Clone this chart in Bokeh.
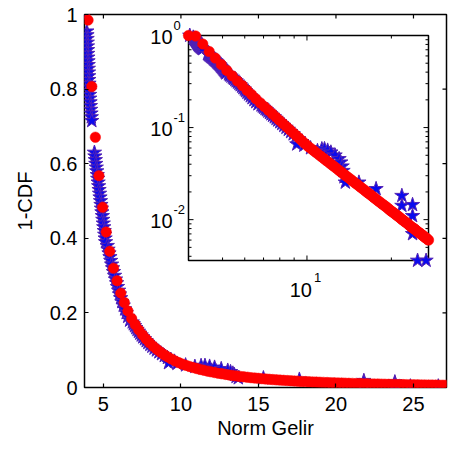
import math
from bokeh.plotting import figure
from bokeh.models import Range1d, LogScale, ColumnDataSource, FixedTicker
from bokeh.core.properties import value
from bokeh.embed import file_html
from bokeh.resources import INLINE

# ---------------- data ----------------
# fitted curve (red dots)
red_x = [3.78, 4.01, 4.25, 4.48, 4.71, 4.95, 5.18, 5.41, 5.65, 5.88,
         6.12, 6.35, 6.58, 6.82, 7.05, 7.28, 7.52, 7.75, 7.98, 8.22,
         8.45, 8.68, 8.92, 9.15, 9.38, 9.62, 9.85, 10.08, 10.32, 10.55,
         10.79, 11.02, 11.25, 11.49, 11.72, 11.95, 12.19, 12.42, 12.65, 12.89,
         13.12, 13.35, 13.59, 13.82, 14.05, 14.29, 14.52, 14.76, 14.99, 15.22,
         15.46, 15.69, 15.92, 16.16, 16.39, 16.62, 16.86, 17.09, 17.32, 17.56,
         17.79, 18.03, 18.26, 18.49, 18.73, 18.96, 19.19, 19.43, 19.66, 19.89,
         20.13, 20.36, 20.59, 20.83, 21.06, 21.30, 21.53, 21.76, 22.00, 22.23,
         22.46, 22.70, 22.93, 23.16, 23.40, 23.63, 23.86, 24.10, 24.33, 24.56,
         24.80, 25.03, 25.27, 25.50, 25.73, 25.97, 26.20, 26.43, 26.67, 26.90,
         27.13]
red_y = [1.000, 0.985, 0.807, 0.671, 0.568, 0.483, 0.417, 0.365, 0.320, 0.286,
         0.253, 0.228, 0.205, 0.185, 0.1688, 0.1544, 0.1411, 0.1298, 0.1197, 0.1103,
         0.1022, 0.0949, 0.0880, 0.0820, 0.0765, 0.0713, 0.0668, 0.0628, 0.0594, 0.0564,
         0.0534, 0.0508, 0.0484, 0.0461, 0.0439, 0.0420, 0.0400, 0.0383, 0.0367, 0.0351,
         0.0336, 0.0323, 0.0309, 0.0297, 0.0286, 0.0275, 0.0264, 0.0254, 0.0245, 0.0237,
         0.0228, 0.0220, 0.0213, 0.0205, 0.0198, 0.0192, 0.0186, 0.0180, 0.0174, 0.0169,
         0.0163, 0.0158, 0.0154, 0.0149, 0.0145, 0.0141, 0.0137, 0.0133, 0.0129, 0.0125,
         0.0122, 0.0119, 0.0116, 0.0112, 0.0110, 0.0107, 0.0104, 0.0101, 0.0099, 0.0096,
         0.0094, 0.0092, 0.0090, 0.0087, 0.0085, 0.0083, 0.0081, 0.0080, 0.0078, 0.0076,
         0.0074, 0.0073, 0.0071, 0.0070, 0.0068, 0.0067, 0.0065, 0.0064, 0.0063, 0.0061,
         0.0060]

# empirical points (blue stars)
blue_x = [3.82,
          3.93, 3.94, 3.95, 3.96, 3.97, 3.98, 3.99, 4.00, 4.01, 4.02,
          4.03, 4.04, 4.05, 4.06, 4.07, 4.08, 4.09, 4.11, 4.12, 4.14,
          4.16, 4.18, 4.20, 4.22, 4.25,
          4.42, 4.45, 4.48, 4.51, 4.54, 4.57, 4.60, 4.63, 4.66, 4.69,
          4.72, 4.75, 4.78, 4.81, 4.84, 4.87, 4.90, 4.93, 4.96, 4.99,
          5.02, 5.05, 5.08, 5.11, 5.14,
          5.25, 5.30, 5.36, 5.42, 5.47, 5.53, 5.59, 5.65, 5.72, 5.78,
          5.85, 5.91, 5.98, 6.04, 6.11, 6.19, 6.28, 6.37, 6.47, 6.57, 6.69,
          6.86, 6.93, 7.01, 7.09, 7.17, 7.26, 7.35, 7.44, 7.54, 7.65,
          7.76, 7.87, 8.00, 8.13, 8.27, 8.42, 8.58, 8.75, 8.93, 9.13,
          9.35, 9.59,
          9.20, 9.75, 10.30, 10.90, 11.30, 11.55, 11.85, 12.17, 12.60, 13.02,
          13.20, 13.35, 13.45, 13.56, 13.70, 15.32, 17.64, 21.80, 21.80, 23.80,
          23.80, 23.80, 24.80, 26.60]
blue_y = [1.000,
          0.955, 0.945, 0.935, 0.925, 0.915, 0.905, 0.895, 0.885, 0.875, 0.865,
          0.855, 0.845, 0.835, 0.825, 0.815, 0.805, 0.795, 0.785, 0.775, 0.765,
          0.755, 0.745, 0.735, 0.725, 0.715,
          0.630, 0.620, 0.610, 0.600, 0.590, 0.580, 0.570, 0.560, 0.550, 0.540,
          0.530, 0.520, 0.510, 0.500, 0.490, 0.480, 0.470, 0.460, 0.450, 0.440,
          0.430, 0.420, 0.410, 0.400, 0.390,
          0.380, 0.370, 0.360, 0.350, 0.340, 0.330, 0.320, 0.310, 0.300, 0.290,
          0.280, 0.270, 0.260, 0.250, 0.240, 0.230, 0.220, 0.210, 0.200, 0.190, 0.180,
          0.175, 0.170, 0.165, 0.160, 0.155, 0.150, 0.145, 0.140, 0.135, 0.130,
          0.125, 0.120, 0.115, 0.110, 0.105, 0.100, 0.095, 0.090, 0.085, 0.080,
          0.075, 0.070,
          0.0660, 0.0640, 0.0600, 0.0560, 0.0585, 0.0587, 0.0565, 0.0539, 0.0500, 0.0457,
          0.0420, 0.0380, 0.0340, 0.0290, 0.0254, 0.0254, 0.0216, 0.0182, 0.0142, 0.0145,
          0.0110, 0.0070, 0.0036, 0.0036]

main_xticks = [5, 10, 15, 20, 25]
main_yticks = [0, 0.2, 0.4, 0.6, 0.8, 1]
main_ylabels = ["0", "0.2", "0.4", "0.6", "0.8", "1"]
inset_ymajor = [1, 0.1, 0.01]
inset_ymajor_exp = ["0", "-1", "-2"]
inset_yminor = [0.004, 0.005, 0.006, 0.007, 0.008, 0.009,
                0.02, 0.03, 0.04, 0.05, 0.06, 0.07, 0.08, 0.09,
                0.2, 0.3, 0.4, 0.5, 0.6, 0.7, 0.8, 0.9]
inset_xmajor = [10]
inset_xmajor_exp = ["1"]
inset_xminor = [5, 6, 7, 8, 9, 20]

X_LIM = (3.78, 27.13)
Y_LIM = (0.0, 1.0)
IY_LIM = (0.0036, 1.0)

# ---------------- layout ----------------
W, H = 449, 450
BL, BR, BT, BB = 84, 3, 14, 63
FW, FH = W - BL - BR, H - BT - BB
IN_L, IN_R, IN_T, IN_B = 188, 428, 35, 260   # inset box in page pixels

def log_extent(lo, hi, a0, a1):
    l0, l1 = math.log10(lo), math.log10(hi)
    span = (l1 - l0) / (a1 - a0)
    start = l0 - a0 * span
    return 10 ** start, 10 ** (start + span)

ix0, ix1 = log_extent(X_LIM[0], X_LIM[1], (IN_L - BL) / FW, (IN_R - BL) / FW)
iy0, iy1 = log_extent(IY_LIM[0], IY_LIM[1], (BT + FH - IN_B) / FH, (BT + FH - IN_T) / FH)

FONT = value("Liberation Sans")

p = figure(width=W, height=H, x_range=Range1d(*X_LIM), y_range=Range1d(*Y_LIM),
           output_backend="svg", toolbar_location=None,
           min_border_left=BL, min_border_right=BR, min_border_top=BT, min_border_bottom=BB)
p.extra_x_ranges = {"ix": Range1d(ix0, ix1)}
p.extra_x_scales = {"ix": LogScale()}
p.extra_y_ranges = {"iy": Range1d(iy0, iy1)}
p.extra_y_scales = {"iy": LogScale()}

p.background_fill_color = "white"
p.border_fill_color = "white"
p.grid.visible = False
p.outline_line_color = "black"
p.outline_line_width = 1.5

for ax in (p.xaxis[0], p.yaxis[0]):
    ax.axis_line_color = None
    ax.major_tick_in = 4
    ax.major_tick_out = 0
    ax.major_tick_line_width = 1.2
    ax.minor_tick_line_color = None
    ax.major_label_text_font = "Liberation Sans"
    ax.major_label_text_font_size = "20px"
    ax.major_label_text_color = "black"
    ax.axis_label_text_font = "Liberation Sans"
    ax.axis_label_text_font_size = "20px"
    ax.axis_label_text_font_style = "normal"
    ax.axis_label_text_color = "black"

p.xaxis.ticker = FixedTicker(ticks=main_xticks)
p.yaxis.ticker = FixedTicker(ticks=main_yticks)
p.yaxis.major_label_overrides = {t: s for t, s in zip(main_yticks, main_ylabels)}
p.xaxis.axis_label = "Norm Gelir"
p.yaxis.axis_label = "1-CDF"
p.xaxis.major_label_standoff = 9
p.xaxis.axis_label_standoff = 3
p.yaxis.major_label_standoff = 7
p.yaxis.axis_label_standoff = 11

# ticks on top / right of the main box
p.ray(x=main_xticks, y=[Y_LIM[1]] * len(main_xticks), length=4, length_units="screen",
      angle=-math.pi / 2, line_color="black", line_width=1.2)
p.ray(x=[X_LIM[1]] * len(main_yticks), y=main_yticks, length=4, length_units="screen",
      angle=math.pi, line_color="black", line_width=1.2)

bsrc = ColumnDataSource(dict(x=blue_x, y=blue_y))
rsrc = ColumnDataSource(dict(x=red_x, y=red_y))

STAR = dict(marker="star", size=15, fill_color="#0a0aee", line_color="#5424b4", line_width=1)
DOT = dict(marker="circle", size=10.5, fill_color="#ff0000", line_color="#ff0000", line_width=0.5)

p.scatter("x", "y", source=bsrc, **STAR)
p.scatter("x", "y", source=rsrc, **DOT)

# ---------------- inset (log-log) ----------------
IN = dict(x_range_name="ix", y_range_name="iy")
p.quad(left=[X_LIM[0]], right=[X_LIM[1]], bottom=[IY_LIM[0]], top=[IY_LIM[1]],
       fill_color="white", line_color="black", line_width=1.5, **IN)

def rays(xs, ys, length, angle):
    p.ray(x=xs, y=ys, length=length, length_units="screen", angle=angle,
          line_color="black", line_width=1, **IN)

# x ticks bottom/top
rays(inset_xmajor, [IY_LIM[0]] * len(inset_xmajor), 5, math.pi / 2)
rays(inset_xmajor, [IY_LIM[1]] * len(inset_xmajor), 5, -math.pi / 2)
rays(inset_xminor, [IY_LIM[0]] * len(inset_xminor), 3, math.pi / 2)
rays(inset_xminor, [IY_LIM[1]] * len(inset_xminor), 3, -math.pi / 2)
# y ticks left/right
rays([X_LIM[0]] * len(inset_ymajor), inset_ymajor, 5, 0)
rays([X_LIM[1]] * len(inset_ymajor), inset_ymajor, 5, math.pi)
rays([X_LIM[0]] * len(inset_yminor), inset_yminor, 3, 0)
rays([X_LIM[1]] * len(inset_yminor), inset_yminor, 3, math.pi)

p.scatter("x", "y", source=bsrc, **STAR, **IN)
p.scatter("x", "y", source=rsrc, **DOT, **IN)

# inset tick labels (10 with superscript exponent)
p.text(x=[X_LIM[0]] * len(inset_ymajor), y=inset_ymajor, text=["10"] * len(inset_ymajor),
       x_offset=-16, y_offset=1, text_align="right", text_baseline="middle",
       text_font=FONT, text_font_size="20px", text_color="black", **IN)
p.text(x=[X_LIM[0]] * len(inset_ymajor), y=inset_ymajor, text=inset_ymajor_exp,
       x_offset=-15, y_offset=-10, text_align="left", text_baseline="middle",
       text_font=FONT, text_font_size="13px", text_color="black", **IN)
p.text(x=inset_xmajor, y=[IY_LIM[0]] * len(inset_xmajor), text=["10"] * len(inset_xmajor),
       x_offset=5, y_offset=29, text_align="right", text_baseline="middle",
       text_font=FONT, text_font_size="20px", text_color="black", **IN)
p.text(x=inset_xmajor, y=[IY_LIM[0]] * len(inset_xmajor), text=inset_xmajor_exp,
       x_offset=7, y_offset=17, text_align="left", text_baseline="middle",
       text_font=FONT, text_font_size="13px", text_color="black", **IN)

open("out.html", "w").write(file_html(p, INLINE))
